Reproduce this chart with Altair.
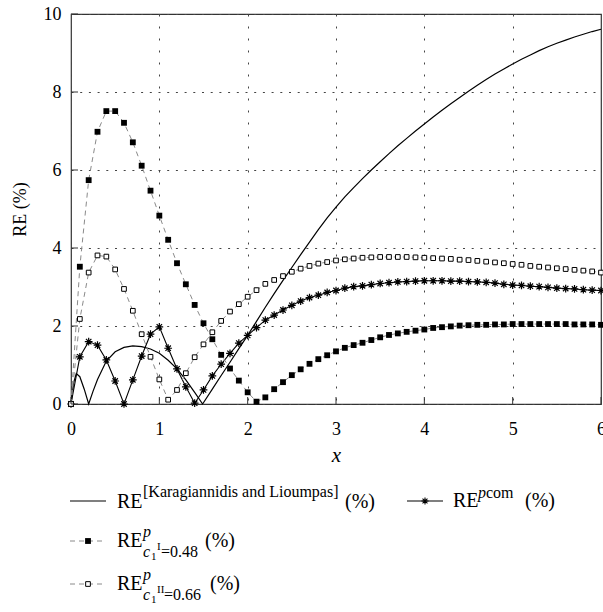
import altair as alt
import pandas as pd

# ---------------------------------------------------------------- data
X_TICKS = [0, 1, 2, 3, 4, 5, 6]
Y_TICKS = [0, 2, 4, 6, 8, 10]

# common sampling grid of the three marked curves
X_GRID = [round(0.1 * i, 1) for i in range(61)]

# Karagiannidis & Lioumpas approximation (denser near the origin)
KL_X = [0, 0.03, 0.06, 0.1, 0.15, 0.2, 0.25, 0.3,
        0.4, 0.5, 0.6, 0.7, 0.8, 0.9, 1.0, 1.1, 1.2, 1.3, 1.4, 1.49,
        1.6, 1.7, 1.8, 1.9, 2.0, 2.1, 2.2, 2.3, 2.4, 2.5, 2.6, 2.7, 2.8, 2.9,
        3.0, 3.1, 3.2, 3.3, 3.4, 3.5, 3.6, 3.7, 3.8, 3.9,
        4.0, 4.1, 4.2, 4.3, 4.4, 4.5, 4.6, 4.7, 4.8, 4.9,
        5.0, 5.1, 5.2, 5.3, 5.4, 5.5, 5.6, 5.7, 5.8, 5.9, 6.0]
KL_RE = [0.0, 0.55, 0.78, 0.70, 0.38, 0.0, 0.33, 0.63,
         1.10, 1.34, 1.45, 1.49, 1.47, 1.41, 1.30, 1.12, 0.90, 0.62, 0.30, 0.0,
         0.38, 0.73, 1.07, 1.42, 1.76, 2.12, 2.48, 2.83, 3.17, 3.50, 3.83, 4.15, 4.47, 4.77,
         5.05, 5.31, 5.55, 5.78, 6.00, 6.21, 6.42, 6.62, 6.81, 7.00,
         7.18, 7.36, 7.53, 7.70, 7.86, 8.02, 8.17, 8.32, 8.46, 8.59,
         8.72, 8.84, 8.95, 9.06, 9.16, 9.25, 9.33, 9.41, 9.48, 9.55, 9.61]

RE_PCOM = [0.0, 1.21, 1.60, 1.51, 1.13, 0.59, 0.0, 0.62, 1.23, 1.79, 1.98,
           1.43, 0.90, 0.44, 0.02, 0.36, 0.72, 1.02, 1.30, 1.56, 1.76,
           1.96, 2.15, 2.28, 2.41, 2.53, 2.64, 2.73, 2.79, 2.86, 2.91,
           2.97, 3.01, 3.03, 3.06, 3.09, 3.11, 3.13, 3.14, 3.15, 3.16,
           3.16, 3.16, 3.15, 3.15, 3.14, 3.13, 3.12, 3.10, 3.07, 3.05,
           3.04, 3.02, 3.01, 2.99, 2.97, 2.96, 2.95, 2.93, 2.92, 2.91]

RE_C1_I = [0.0, 3.52, 5.74, 6.98, 7.51, 7.51, 7.21, 6.71, 6.11, 5.47, 4.83,
           4.21, 3.61, 3.07, 2.54, 2.07, 1.66, 1.26, 0.91, 0.60, 0.30,
           0.06, 0.17, 0.38, 0.56, 0.74, 0.89, 1.03, 1.15, 1.25, 1.35,
           1.44, 1.51, 1.57, 1.64, 1.71, 1.77, 1.81, 1.85, 1.88, 1.91,
           1.95, 1.97, 1.99, 2.01, 2.02, 2.03, 2.03, 2.04, 2.04, 2.05,
           2.05, 2.05, 2.05, 2.05, 2.05, 2.05, 2.04, 2.04, 2.04, 2.03]

RE_C1_II = [0.0, 2.18, 3.37, 3.81, 3.78, 3.45, 2.95, 2.39, 1.79, 1.21, 0.63,
            0.11, 0.36, 0.79, 1.20, 1.53, 1.84, 2.13, 2.37, 2.56, 2.75,
            2.92, 3.08, 3.18, 3.28, 3.39, 3.47, 3.54, 3.60, 3.64, 3.68,
            3.71, 3.73, 3.75, 3.76, 3.77, 3.77, 3.77, 3.77, 3.76, 3.75,
            3.74, 3.73, 3.72, 3.70, 3.69, 3.67, 3.65, 3.63, 3.61, 3.59,
            3.57, 3.54, 3.52, 3.50, 3.48, 3.46, 3.44, 3.42, 3.40, 3.37]

# ---------------------------------------------------------------- style
FONT = "Liberation Serif"
W, H = 530, 390
ASTERISK = "M-1,0L1,0M0,-1L0,1M-0.7,-0.7L0.7,0.7M-0.7,0.7L0.7,-0.7"
DASH = [5, 4]
GREY = "#8a8a8a"

xs = alt.Scale(domain=[0, 6], nice=False, zero=False)
ys = alt.Scale(domain=[0, 10], nice=False)

X_AXIS = alt.Axis(values=X_TICKS, title="x", titleFontStyle="italic",
                  labelFlush=False, labelOverlap=False, labelBound=False,
                  format="d")
Y_AXIS = alt.Axis(values=Y_TICKS, title="RE (%)", format="d")

kl_df = pd.DataFrame({"x": KL_X, "re": KL_RE})
grid_df = pd.DataFrame({"x": X_GRID, "pcom": RE_PCOM,
                        "c1i": RE_C1_I, "c1ii": RE_C1_II})


def xq(col="x"):
    return alt.X(f"{col}:Q", scale=xs, axis=X_AXIS)


def yq(col):
    return alt.Y(f"{col}:Q", scale=ys, axis=Y_AXIS)


kl_line = alt.Chart(kl_df).mark_line(color="black", strokeWidth=1.2).encode(
    x=xq(), y=yq("re"))

base = alt.Chart(grid_df)
pcom_line = base.mark_line(color="black", strokeWidth=1.1).encode(x=xq(), y=yq("pcom"))
pcom_pts = base.mark_point(shape=ASTERISK, size=60, filled=False, color="black",
                           strokeWidth=1.2, opacity=1).encode(x=xq(), y=yq("pcom"))
c1i_line = base.mark_line(color=GREY, strokeWidth=1, strokeDash=DASH).encode(
    x=xq(), y=yq("c1i"))
c1i_pts = base.mark_point(shape="square", size=34, filled=True, color="black",
                          opacity=1).encode(x=xq(), y=yq("c1i"))
c1ii_line = base.mark_line(color=GREY, strokeWidth=1, strokeDash=DASH).encode(
    x=xq(), y=yq("c1ii"))
c1ii_pts = base.mark_point(shape="square", size=22, filled=True, fill="white",
                           stroke="black", strokeWidth=1, opacity=1).encode(
    x=xq(), y=yq("c1ii"))

# inward tick marks on the frame
xt_df = pd.DataFrame({"t": X_TICKS})
yt_df = pd.DataFrame({"t": Y_TICKS})
x_ticks = alt.Chart(xt_df).mark_rule(color="#333", strokeWidth=1).encode(
    x=xq("t"), y=alt.value(H), y2=alt.value(H - 7))
y_ticks = alt.Chart(yt_df).mark_rule(color="#333", strokeWidth=1).encode(
    y=yq("t"), x=alt.value(0), x2=alt.value(7))

# ---------------------------------------------------------------- legend
one = pd.DataFrame({"k": [0]})


def leg_line(x0, x1, y, dash=None, color="black", width=1.2):
    kw = dict(color=color, strokeWidth=width)
    if dash:
        kw["strokeDash"] = dash
    return alt.Chart(one).mark_rule(**kw).encode(
        x=alt.value(x0), x2=alt.value(x1), y=alt.value(y))


def leg_pt(x, y, **kw):
    return alt.Chart(one).mark_point(opacity=1, **kw).encode(
        x=alt.value(x), y=alt.value(y))


def txt(s, x, y, size=20, italic=False):
    kw = dict(text=s, font=FONT, fontSize=size, align="left",
              baseline="alphabetic", color="black")
    if italic:
        kw["fontStyle"] = "italic"
    return alt.Chart(one).mark_text(**kw).encode(x=alt.value(x), y=alt.value(y))


L1, L3, L4 = 487, 527, 570
legend = [
    leg_line(-1, 35, L1),
    txt("RE", 46, L1 + 7),
    txt("[Karagiannidis and Lioumpas]", 72, L1 - 4, 16),
    txt("(%)", 274, L1 + 7),

    leg_line(336, 372, L1, width=1.1),
    leg_pt(354, L1, shape=ASTERISK, size=50, filled=False, color="black", strokeWidth=1.1),
    txt("RE", 382, L1 + 6),
    txt("p", 407, L1 - 3, 16, italic=True),
    txt("com", 415, L1 - 3, 16),
    txt("(%)", 454, L1 + 6),

    leg_line(-1, 35, L3, dash=DASH, color=GREY, width=1),
    leg_pt(17, L3, shape="square", size=34, filled=True, color="black"),
    txt("RE", 46, L3 + 6),
    txt("p", 72, L3 - 4, 16, italic=True),
    txt("c", 72, L3 + 16, 16, italic=True),
    txt("1", 80, L3 + 19, 11),
    txt("I", 86, L3 + 9, 11),
    txt("=0.48", 90, L3 + 16, 16),
    txt("(%)", 134, L3 + 6),

    leg_line(-1, 35, L4, dash=DASH, color=GREY, width=1),
    leg_pt(17, L4, shape="square", size=22, filled=True, fill="white",
           stroke="black", strokeWidth=1),
    txt("RE", 46, L4 + 6),
    txt("p", 72, L4 - 4, 16, italic=True),
    txt("c", 72, L4 + 16, 16, italic=True),
    txt("1", 80, L4 + 19, 11),
    txt("II", 86, L4 + 9, 11),
    txt("=0.66", 93, L4 + 16, 16),
    txt("(%)", 139, L4 + 6),
]

chart = alt.layer(
    kl_line, pcom_line, c1i_line, c1ii_line,
    pcom_pts, c1i_pts, c1ii_pts,
    x_ticks, y_ticks, *legend,
).properties(
    width=W, height=H,
    autosize=alt.AutoSizeParams(type="none"),
    padding={"left": 71, "top": 14, "right": 2, "bottom": 208},
).configure_view(
    stroke="#333", strokeWidth=1.2
).configure_axis(
    domain=False, ticks=False, grid=True, gridColor="#444", gridWidth=1,
    labelFont=FONT, labelFontSize=18, labelColor="black",
    titleFont=FONT, titleFontWeight="normal", titleColor="black",
).configure_axisX(
    gridDash=[2, 10], labelPadding=16, titleFontSize=21, titlePadding=6,
).configure_axisY(
    gridDash=[2, 6.7], labelPadding=10, titleFontSize=18, titlePadding=14,
)

chart.save("out.html", embed_options={"renderer": "svg", "actions": False})
